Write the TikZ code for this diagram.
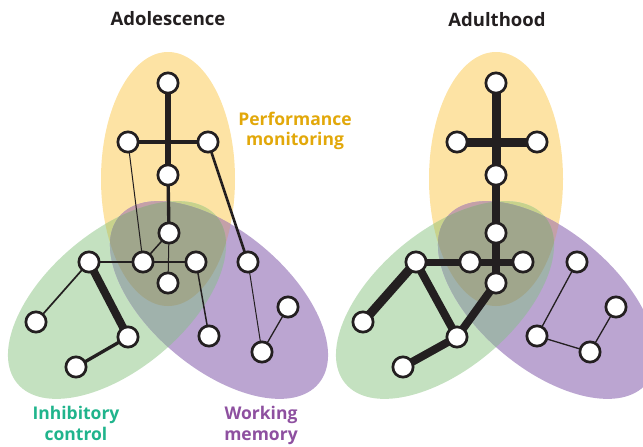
\documentclass[tikz,border=0pt]{standalone}
\usepackage{fontspec}
\setmainfont{Open Sans}
\pgfdeclarelayer{ell}
\pgfdeclarelayer{edges}
\pgfsetlayers{ell,edges,main}
\definecolor{cY}{RGB}{253,227,164}
\definecolor{cG}{RGB}{196,225,192}
\definecolor{cP}{RGB}{187,165,209}
\definecolor{cYG}{RGB}{200,210,140}
\definecolor{cYP}{RGB}{196,160,168}
\definecolor{cGP}{RGB}{160,178,172}
\definecolor{cYGP}{RGB}{160,166,140}
\definecolor{ink}{RGB}{35,31,32}
\definecolor{gold}{RGB}{226,168,10}
\definecolor{teal}{RGB}{32,180,140}
\definecolor{violet}{RGB}{142,80,160}
\newcommand\ellYpath[1]{(168+#1,179) ellipse [x radius=67,y radius=127]}
\newcommand\ellGpath[1]{(117+#1,300) ellipse [x radius=130,y radius=69]}
\newcommand\ellPpath[1]{(219+#1,300) ellipse [x radius=130,y radius=69]}
\newcommand\vennregions[1]{%
  \fill[cY] \ellYpath{#1};
  \fill[cG,rotate around={40:(117+#1,300)}] \ellGpath{#1};
  \fill[cP,rotate around={-40:(219+#1,300)}] \ellPpath{#1};
  \begin{scope}
    \clip \ellYpath{#1};
    \fill[cYG,rotate around={40:(117+#1,300)}] \ellGpath{#1};
    \fill[cYP,rotate around={-40:(219+#1,300)}] \ellPpath{#1};
  \end{scope}
  \begin{scope}
    \clip[rotate around={40:(117+#1,300)}] \ellGpath{#1};
    \fill[cGP,rotate around={-40:(219+#1,300)}] \ellPpath{#1};
  \end{scope}
  \begin{scope}
    \clip \ellYpath{#1};
    \clip[rotate around={40:(117+#1,300)}] \ellGpath{#1};
    \fill[cYGP,rotate around={-40:(219+#1,300)}] \ellPpath{#1};
  \end{scope}
}
\tikzset{
  nd/.style={circle,draw=ink,fill=white,line width=2.7pt,minimum size=20.3pt,inner sep=0pt},
  ed/.style={draw=ink,line width=#1},
  ttl/.style={anchor=base,text=ink,font=\bfseries\fontsize{18.5}{20}\selectfont},
  lbl/.style={anchor=base,font=\bfseries\fontsize{17.5}{20}\selectfont}
}
\begin{document}
\begin{tikzpicture}[x=1pt,y=-1pt]
\useasboundingbox (0,0) rectangle (643,447);
\begin{pgfonlayer}{ell}
  \vennregions{0}
  \vennregions{328}
\end{pgfonlayer}

% titles and labels
\node[ttl] (t1) at (168,25) {Adolescence};
\node[ttl] (t2) at (497,27) {Adulthood};
\node[lbl,text=gold] (pm1) at (295,125) {Performance};
\node[lbl,text=gold] (pm2) at (295,145) {monitoring};
\node[lbl,text=teal] (ic1) at (76,419) {Inhibitory};
\node[lbl,text=teal] (ic2) at (76,440) {control};
\node[lbl,text=violet] (wm1) at (261,419) {Working};
\node[lbl,text=violet] (wm2) at (261,440) {memory};

% adolescence nodes
\node[nd] (aT) at (168,83) {};
\node[nd] (aL) at (128,142) {};
\node[nd] (aR) at (208,142) {};
\node[nd] (aM) at (168,175) {};
\node[nd] (aC) at (169,233) {};
\node[nd] (aRL) at (89,262) {};
\node[nd] (aRC) at (143,262) {};
\node[nd] (aRR) at (196,262) {};
\node[nd] (aB) at (168,283) {};
\node[nd] (aP1) at (248,262) {};
\node[nd] (aP2) at (288,307) {};
\node[nd] (aP3) at (262,352) {};
\node[nd] (aP4) at (209,336) {};
\node[nd] (aG1) at (36,322) {};
\node[nd] (aG2) at (128,337) {};
\node[nd] (aG3) at (76,367) {};

% adulthood nodes
\node[nd] (bT) at (496,83) {};
\node[nd] (bL) at (457,142) {};
\node[nd] (bR) at (537,142) {};
\node[nd] (bM) at (496,175) {};
\node[nd] (bC) at (496,233) {};
\node[nd] (bRL) at (416,262) {};
\node[nd] (bRC) at (470,262) {};
\node[nd] (bRR) at (523,262) {};
\node[nd] (bB) at (496,283) {};
\node[nd] (bG1) at (363,322) {};
\node[nd] (bG2) at (457,337) {};
\node[nd] (bG3) at (403,367) {};
\node[nd] (bP1) at (577,262) {};
\node[nd] (bP2) at (616,307) {};
\node[nd] (bP3) at (590,352) {};
\node[nd] (bP4) at (537,336) {};

\begin{pgfonlayer}{edges}
  \draw[ed=5.2pt] (aT.center) -- (aM.center);
  \draw[ed=3.3pt] (aL.center) -- (aR.center);
  \draw[ed=3.4pt] (aM.center) -- (aC.center);
  \draw[ed=1pt] (aL.center) -- (aRC.center);
  \draw[ed=2.6pt] (aR.center) -- (aP1.center);
  \draw[ed=1.5pt] (aC.center) -- (aRC.center);
  \draw[ed=1pt] (aC.center) -- (aB.center);
  \draw[ed=2.7pt] (aRL.center) -- (aRC.center);
  \draw[ed=2.2pt] (aRC.center) -- (aRR.center);
  \draw[ed=1.7pt] (aRL.center) -- (aG1.center);
  \draw[ed=8pt] (aRL.center) -- (aG2.center);
  \draw[ed=3.3pt] (aG2.center) -- (aG3.center);
  \draw[ed=1.5pt] (aRR.center) -- (aP4.center);
  \draw[ed=1pt] (aP1.center) -- (aP3.center);
  \draw[ed=1.3pt] (aP2.center) -- (aP3.center);

  \draw[ed=9pt] (bT.center) -- (bM.center);
  \draw[ed=9pt] (bL.center) -- (bR.center);
  \draw[ed=8pt] (bM.center) -- (bC.center);
  \draw[ed=8pt] (bC.center) -- (bB.center);
  \draw[ed=7pt] (bRL.center) -- (bRC.center);
  \draw[ed=7pt] (bRC.center) -- (bRR.center);
  \draw[ed=9pt] (bRL.center) -- (bG1.center);
  \draw[ed=8pt] (bRL.center) -- (bG2.center);
  \draw[ed=8pt] (bG2.center) -- (bG3.center);
  \draw[ed=8pt] (bB.center) -- (bG2.center);
  \draw[ed=1.3pt] (bP1.center) -- (bP4.center);
  \draw[ed=1.3pt] (bP4.center) -- (bP3.center);
  \draw[ed=1.3pt] (bP2.center) -- (bP3.center);
\end{pgfonlayer}
\end{tikzpicture}
\end{document}
